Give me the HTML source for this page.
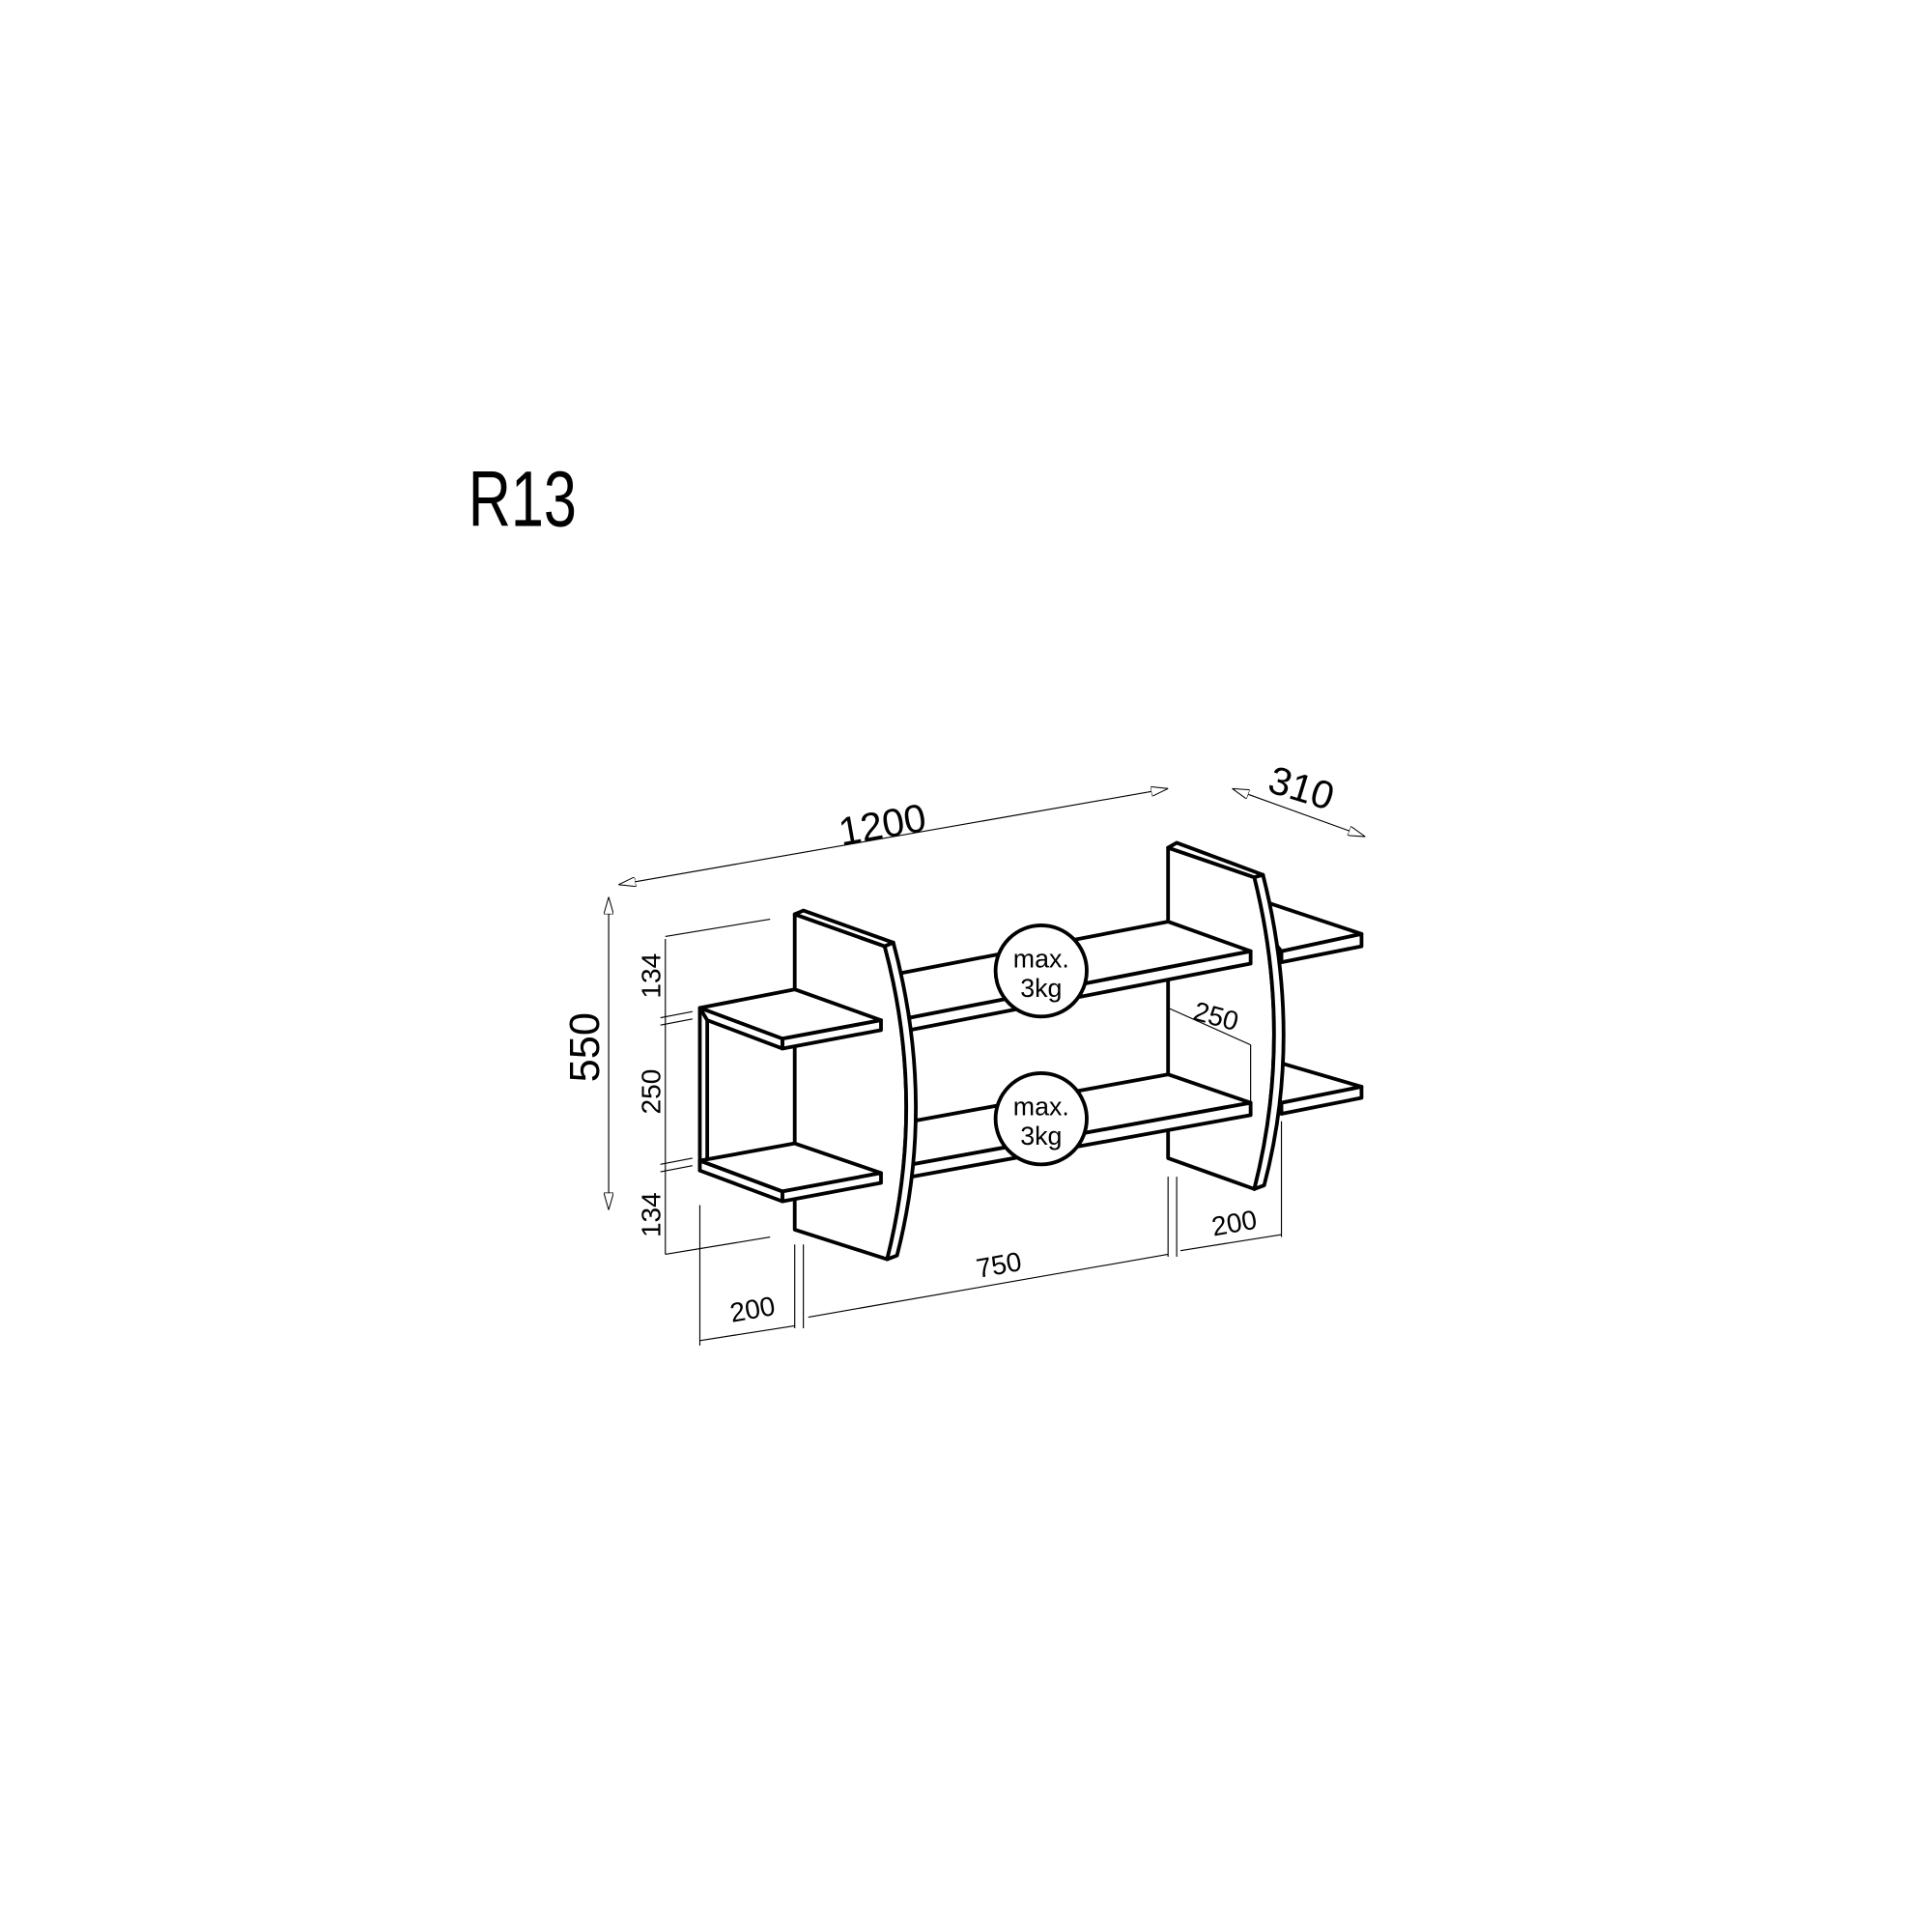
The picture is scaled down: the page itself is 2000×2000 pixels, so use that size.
<!DOCTYPE html>
<html><head><meta charset="utf-8"><style>
html,body{margin:0;padding:0;background:#fff;}
svg{display:block;}
text{font-family:"Liberation Sans",sans-serif;fill:#000;}
</style></head><body>
<svg width="2000" height="2000" viewBox="0 0 1568 1568" xmlns="http://www.w3.org/2000/svg">
<defs>
<marker id="a" viewBox="0 0 14 8" refX="14" refY="4" markerWidth="14" markerHeight="8" orient="auto-start-reverse" markerUnits="userSpaceOnUse">
<path d="M0,0 L14,4 L0,8 Z" fill="#fff" stroke="#000" stroke-width="0.8"/>
</marker>
</defs>
<text x="380" y="427" font-size="64" textLength="88" lengthAdjust="spacingAndGlyphs">R13</text>

<g stroke="#000" stroke-width="0.9" fill="none">
<line x1="502" y1="718" x2="948" y2="640" marker-start="url(#a)" marker-end="url(#a)"/>
<line x1="1000" y1="640" x2="1108" y2="679" marker-start="url(#a)" marker-end="url(#a)"/>
<line x1="494" y1="728" x2="494" y2="982" marker-start="url(#a)" marker-end="url(#a)"/>
<line x1="540" y1="762" x2="540" y2="1018"/>
<line x1="540" y1="760" x2="625" y2="746"/>
<line x1="536" y1="826" x2="562" y2="821"/>
<line x1="536" y1="832" x2="562" y2="827"/>
<line x1="536" y1="945" x2="562" y2="940"/>
<line x1="536" y1="951" x2="562" y2="946"/>
<line x1="540" y1="1018" x2="625" y2="1004"/>
<line x1="568" y1="978" x2="568" y2="1092"/>
<line x1="645" y1="1010" x2="645" y2="1078"/>
<line x1="652" y1="1010" x2="652" y2="1078"/>
<line x1="948" y1="955" x2="948" y2="1020"/>
<line x1="955" y1="955" x2="955" y2="1020"/>
<line x1="1040" y1="910" x2="1040" y2="1004"/>
<line x1="568" y1="1088" x2="645" y2="1076"/>
<line x1="656" y1="1069" x2="948" y2="1018"/>
<line x1="958" y1="1015" x2="1040" y2="1002"/>
</g>

<g>
<text transform="translate(718,680) rotate(-10)" text-anchor="middle" font-size="32">1200</text>
<text transform="translate(1053,650) rotate(17)" text-anchor="middle" font-size="32">310</text>
<text transform="translate(486,850) rotate(-90)" text-anchor="middle" font-size="34">550</text>
<text transform="translate(536,792) rotate(-90)" text-anchor="middle" font-size="22">134</text>
<text transform="translate(536,886) rotate(-90)" text-anchor="middle" font-size="22">250</text>
<text transform="translate(536,986) rotate(-90)" text-anchor="middle" font-size="22">134</text>
<text transform="translate(612,1070) rotate(-10)" text-anchor="middle" font-size="22">200</text>
<text transform="translate(812,1034) rotate(-10)" text-anchor="middle" font-size="22">750</text>
<text transform="translate(1003,1000) rotate(-10)" text-anchor="middle" font-size="22">200</text>
</g>

<g stroke="#000" stroke-width="3" fill="#fff" stroke-linejoin="round">
<!-- right protruding shelves -->
<polygon points="1030,733 1105,758 1040,772 1030,760"/>
<polygon points="1040,772 1105,758 1105,768 1040,781"/>
<polygon points="1030,860 1105,882 1040,895 1030,885"/>
<polygon points="1040,895 1105,882 1105,891 1040,904"/>
<!-- right panel body -->
<path d="M948,688 L1018,712 Q1050,840 1018,965 L948,940 Z"/>
</g>
<g stroke="#000" stroke-width="0.9" fill="none">
<line x1="948" y1="818" x2="1015" y2="848"/>
<line x1="1015" y1="848" x2="1015" y2="895"/>
</g>
<text transform="translate(985,832) rotate(15)" text-anchor="middle" font-size="22">250</text>
<g stroke="#000" stroke-width="3" fill="#fff" stroke-linejoin="round">
<!-- long shelves -->
<polygon points="730,790 948,748 1015,772 738,826"/>
<polygon points="738,826 1015,772 1015,782 738,836"/>
<polygon points="740,910 948,872 1015,895 740,945"/>
<polygon points="740,945 1015,895 1015,905 740,955"/>
<!-- right panel edges -->
<path d="M948,688 L955,684 L1025,710 L1018,712 Z"/>
<path d="M1018,712 L1025,710 Q1058,840 1026,962 L1018,965 Q1050,840 1018,712 Z"/>
<!-- circles -->
<circle cx="845" cy="788" r="37"/>
<circle cx="845" cy="908" r="37"/>
<!-- left box -->
<path d="M568,818 L568,950 L574,950 L574,825 Z"/>
<line x1="650" y1="851" x2="650" y2="930"/>
<!-- left panel -->
<path d="M645,742 L718,768 Q752,895 720,1022 L645,998 Z"/>
<path d="M645,742 L652,739 L725,765 L718,768 Z"/>
<path d="M718,768 L725,765 Q760,895 728,1019 L720,1022 Q752,895 718,768 Z"/>
<!-- left small shelves -->
<polygon points="568,818 645,803 715,828 635,843"/>
<polygon points="635,843 715,828 715,836 635,851"/>
<polygon points="568,818 635,843 635,851 574,828"/>
<polygon points="568,942 645,928 715,952 635,967"/>
<polygon points="635,967 715,952 715,960 635,975"/>
<polygon points="568,942 635,967 635,975 568,950"/>
</g>
<g font-size="21" text-anchor="middle">
<text x="845" y="785">max.</text>
<text x="845" y="809">3kg</text>
<text x="845" y="905">max.</text>
<text x="845" y="929">3kg</text>
</g>
</svg>
</body></html>
